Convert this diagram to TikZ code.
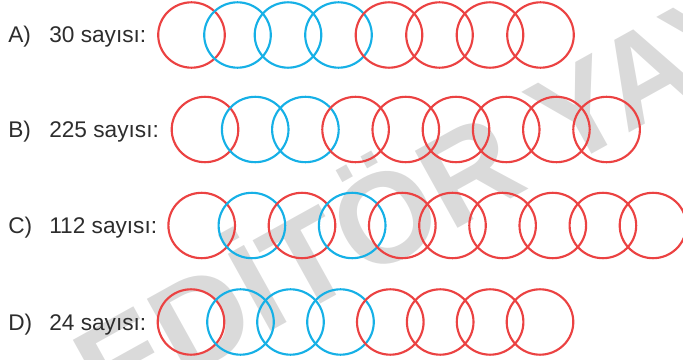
\documentclass[tikz,border=0pt]{standalone}
\usepackage{fontspec}
\setmainfont{Liberation Sans}
\definecolor{cred}{RGB}{235,66,66}
\definecolor{cblue}{RGB}{22,176,230}
\definecolor{ctext}{RGB}{45,45,45}
\definecolor{cwm}{RGB}{218,218,218}
\begin{document}
\begin{tikzpicture}[x=0.75pt,y=-0.75pt,
  ring/.style={line width=1.6pt,draw=#1},
  lbl/.style={anchor=base west,inner sep=0pt,text=ctext,font=\fontsize{17}{20}\selectfont}]
\useasboundingbox (0,0) rectangle (683,360);
\begin{scope}
\clip (0,0) rectangle (683,360);
\node[rotate=29,text=cwm,font=\bfseries\fontsize{96}{100}\selectfont,anchor=base west,inner sep=0pt] (wm) at (108,422) {EDİTÖR YAYINLARI};
\end{scope}
% Row A
\foreach \x/\c [count=\i] in {191.5/cred,237.5/cblue,288/cblue,338.5/cblue,389/cred,439.5/cred,490/cred,540.5/cred}
  \draw[ring=\c] (\x,35) ellipse [x radius=33.3, y radius=32.7];
\node[lbl] (la) at (8,43) {A)};
\node[lbl] (ta) at (49,43) {30 sayısı:};
% Row B
\foreach \x/\c in {205/cred,255.2/cblue,305.4/cblue,355.6/cred,405.8/cred,456/cred,506.2/cred,556.4/cred,606.6/cred}
  \draw[ring=\c] (\x,129.5) ellipse [x radius=33.3, y radius=32.7];
\node[lbl] (lb) at (8,137.5) {B)};
\node[lbl] (tb) at (49,137.5) {225 sayısı:};
% Row C
\foreach \x/\c in {201.7/cred,251.9/cblue,302/cred,352.2/cblue,402.3/cred,452.5/cred,502.6/cred,552.8/cred,602.9/cred,653/cred}
  \draw[ring=\c] (\x,225.5) ellipse [x radius=33.3, y radius=32.7];
\node[lbl] (lc) at (8,233.5) {C)};
\node[lbl] (tc) at (49,233.5) {112 sayısı:};
% Row D
\foreach \x/\c in {191/cred,240.5/cblue,290.5/cblue,340.5/cblue,390.3/cred,440.2/cred,490.1/cred,540/cred}
  \draw[ring=\c] (\x,322) ellipse [x radius=33.3, y radius=32.7];
\node[lbl] (ld) at (8,330) {D)};
\node[lbl] (td) at (49,330) {24 sayısı:};
\end{tikzpicture}
\end{document}
